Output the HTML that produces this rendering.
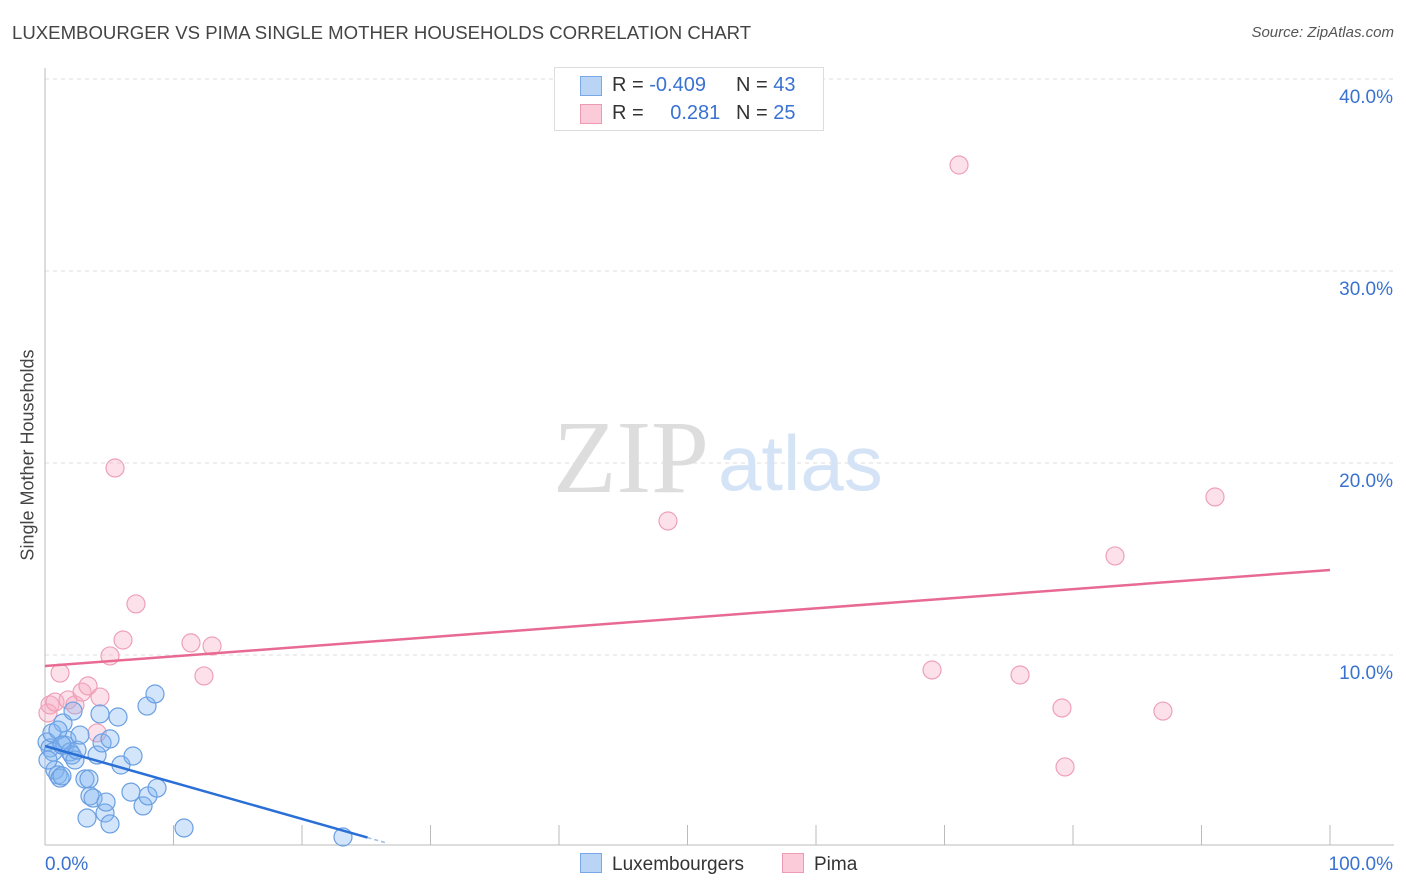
<!DOCTYPE html>
<html><head><meta charset="utf-8"><style>
body{margin:0;background:#fff;font-family:"Liberation Sans",sans-serif;}
#wrap{position:relative;width:1406px;height:892px;overflow:hidden;}
.t{position:absolute;white-space:nowrap;}
</style></head><body>
<div id="wrap">
<div class="t" style="left:12px;top:22px;font-size:18.6px;color:#444;">LUXEMBOURGER VS PIMA SINGLE MOTHER HOUSEHOLDS CORRELATION CHART</div>
<div class="t" style="right:12px;top:24px;font-size:15px;color:#555;font-style:italic;">Source: ZipAtlas.com</div>
<div class="t" style="left:28px;top:455px;font-size:18px;color:#444;transform:translate(-50%,-50%) rotate(-90deg);">Single Mother Households</div>
<svg id="plot" width="1406" height="892" style="position:absolute;left:0;top:0"></svg>
<div class="t" style="left:554px;top:67px;width:268px;height:62px;border:1px solid #ddd;background:#fff;font-size:20px;color:#333;">
 <div style="position:absolute;left:25px;top:8px;width:20px;height:18px;background:#b9d4f5;border:1px solid #7aa8e6;"></div>
 <div style="position:absolute;left:57px;top:6px;">R = <span style="color:#3a72d0">-0.409</span></div>
 <div style="position:absolute;left:181px;top:6px;">N = <span style="color:#3a72d0">43</span></div>
 <div style="position:absolute;left:25px;top:36px;width:20px;height:18px;background:#fbcbd9;border:1px solid #ef9ab4;"></div>
 <div style="position:absolute;left:57px;top:34px;">R = <span style="color:#3a72d0;margin-left:21px">0.281</span></div>
 <div style="position:absolute;left:181px;top:34px;">N = <span style="color:#3a72d0">25</span></div>
</div>
<div class="t" style="left:580px;top:853px;font-size:19px;color:#333;"><span style="display:inline-block;width:20px;height:18px;background:#b9d4f5;border:1px solid #7aa8e6;vertical-align:-3px;margin-right:10px"></span>Luxembourgers</div>
<div class="t" style="left:782px;top:853px;font-size:19px;color:#333;"><span style="display:inline-block;width:20px;height:18px;background:#fbcbd9;border:1px solid #ef9ab4;vertical-align:-3px;margin-right:10px"></span>Pima</div>
</div>
<script>
const yTicks=[10,20,30,40];
const yTickLabels=["10.0%","20.0%","30.0%","40.0%"];
const xTickLabels=["0.0%","100.0%"];
const luxX=[0.16,0.39,0.62,0.78,1.01,1.17,1.32,1.40,1.56,1.71,1.95,2.10,2.18,2.33,2.49,2.72,3.11,3.27,3.42,3.50,3.74,4.05,4.28,4.44,4.67,4.75,5.06,5.06,5.68,5.91,6.69,6.85,7.63,8.02,7.94,8.56,8.72,10.82,23.19,0.23,0.54,1.01,1.32];
const luxY=[5.47,5.16,4.95,4.01,3.75,3.59,3.70,6.46,5.31,5.57,4.95,4.79,7.08,4.53,5.05,5.83,3.54,1.51,3.54,2.66,2.55,4.79,6.93,5.42,1.77,2.34,5.63,1.20,6.77,4.27,2.86,4.74,2.14,2.66,7.34,7.97,3.07,0.99,0.52,4.53,5.94,6.09,5.31];
const pimaX=[0.23,0.39,0.78,1.17,1.79,2.33,2.88,3.35,4.05,4.28,5.06,5.45,6.07,7.08,11.36,12.37,13.0,48.48,69.03,71.13,75.88,79.14,79.38,83.27,87.0,91.05];
const pimaY=[6.98,7.40,7.55,9.06,7.66,7.40,8.07,8.39,5.94,7.81,9.95,19.74,10.78,12.66,10.63,8.91,10.47,16.98,9.22,35.52,8.96,7.24,4.17,15.16,7.08,18.23];
const luxTrend=[5.26,-0.19];
const pimaTrend=[9.43,0.05];
const luxTrendEnd=25.1;

const NS="http://www.w3.org/2000/svg";
const svg=document.getElementById('plot');
const X=v=>45+v*12.85;
const Y=v=>847-v*19.2;
function mk(tag,attrs){const e=document.createElementNS(NS,tag);for(const k in attrs)e.setAttribute(k,attrs[k]);svg.appendChild(e);return e;}
yTicks.forEach((t,i)=>{
 const g=mk('line',{x1:45,x2:1394,y1:Y(t),y2:Y(t),stroke:'#ddd','stroke-dasharray':'4,4'});
 
 
 const tx=mk('text',{x:1393,y:Y(t)+24,'text-anchor':'end','font-size':19,fill:'#3a72d0','font-family':'Liberation Sans, sans-serif'});
 tx.textContent=yTickLabels[i];
 
 
});
let a=mk('line',{x1:45,x2:45,y1:68,y2:845,stroke:'#bbb'});


a=mk('line',{x1:45,x2:1394,y1:845,y2:845,stroke:'#bbb'});


for(let i=1;i<=10;i++){
 const tk=mk('line',{x1:X(i*10),x2:X(i*10),y1:825,y2:845,stroke:'#bbb'});
 
 
}
let xl=mk('text',{x:45,y:870,'font-size':19,fill:'#3a72d0','font-family':'Liberation Sans, sans-serif'});
xl.textContent=xTickLabels[0];


xl=mk('text',{x:1393,y:870,'text-anchor':'end','font-size':19,fill:'#3a72d0','font-family':'Liberation Sans, sans-serif'});
xl.textContent=xTickLabels[1];


let w=mk('text',{x:553,y:492,'font-size':104,fill:'#ddd','font-family':'Liberation Serif, serif'});
w.textContent='ZIP';


w=mk('text',{x:718,y:490,'font-size':78,fill:'#d5e3f6','font-family':'Liberation Sans, sans-serif'});
w.textContent='atlas';


pimaX.forEach((x,i)=>{
 const c=mk('circle',{cx:X(x),cy:Y(pimaY[i]),r:9,fill:'rgba(246,170,195,0.35)',stroke:'#eea0b8','stroke-width':1.2});
 
 
});
luxX.forEach((x,i)=>{
 const c=mk('circle',{cx:X(x),cy:Y(luxY[i]),r:9,fill:'rgba(130,180,240,0.35)',stroke:'#6a9fe2','stroke-width':1.2});
 
 
});
let tl=mk('line',{x1:X(0),y1:Y(pimaTrend[0]),x2:X(100),y2:Y(pimaTrend[0]+pimaTrend[1]*100),stroke:'#e86a93','stroke-width':2.5});


tl=mk('line',{x1:X(0),y1:Y(luxTrend[0]),x2:X(luxTrendEnd),y2:Y(luxTrend[0]+luxTrend[1]*luxTrendEnd),stroke:'#2a6fd6','stroke-width':2.5});


tl=mk('line',{x1:X(luxTrendEnd),y1:Y(luxTrend[0]+luxTrend[1]*luxTrendEnd),x2:X(26.5),y2:Y(luxTrend[0]+luxTrend[1]*26.5),stroke:'#9bbbe8','stroke-width':1.5,'stroke-dasharray':'4,3'});


</script>
</body></html>
